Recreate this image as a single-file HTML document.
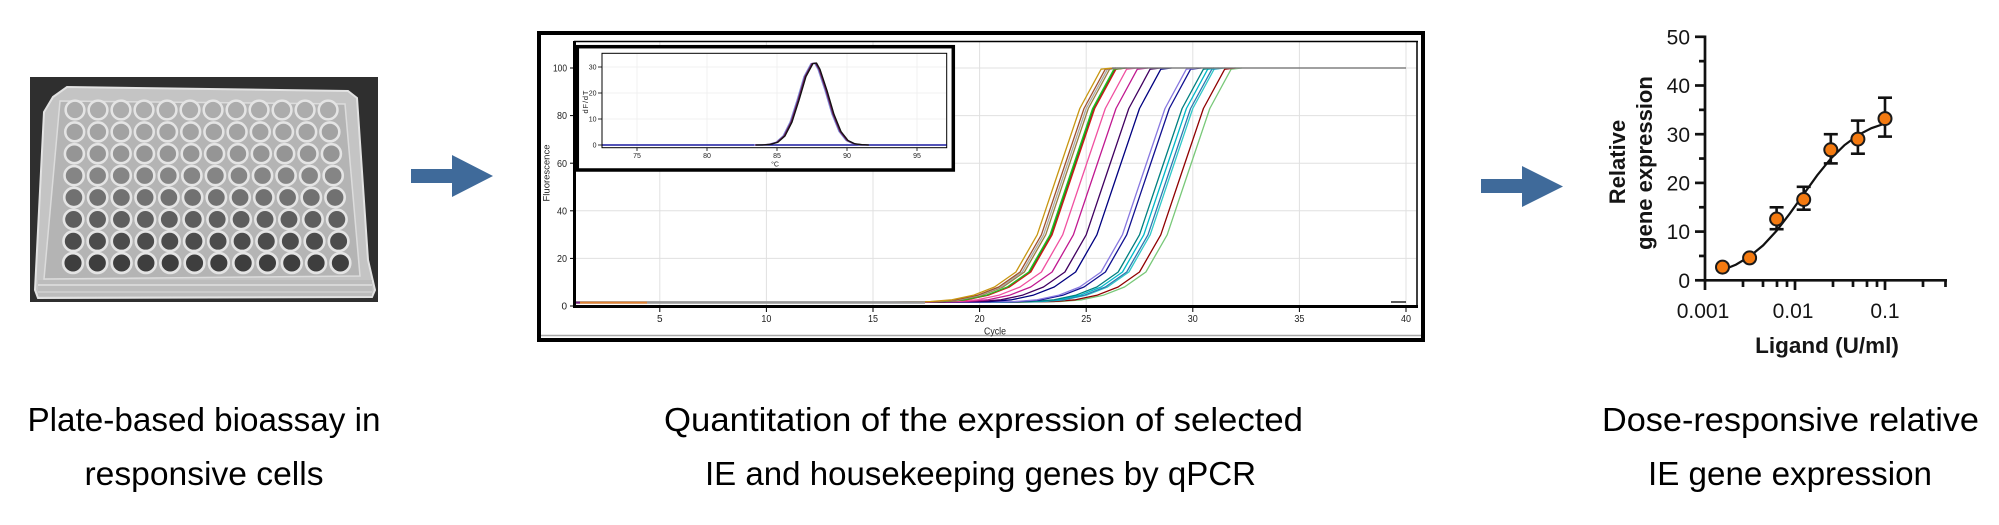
<!DOCTYPE html>
<html><head><meta charset="utf-8"><style>
html,body{margin:0;padding:0;background:#fff;}
svg{display:block;}
</style></head><body>
<svg width="1999" height="525" viewBox="0 0 1999 525" xmlns="http://www.w3.org/2000/svg" font-family="'Liberation Sans', Arial, sans-serif">
<defs>
  <g id="wrow" stroke="#e4e4e4" stroke-width="2.6">
    <circle cx="0" cy="0" r="9.6"/><circle cx="23.6" cy="0" r="9.6"/><circle cx="47.2" cy="0" r="9.6"/><circle cx="70.8" cy="0" r="9.6"/>
    <circle cx="94.4" cy="0" r="9.6"/><circle cx="118" cy="0" r="9.6"/><circle cx="141.6" cy="0" r="9.6"/><circle cx="165.2" cy="0" r="9.6"/>
    <circle cx="188.8" cy="0" r="9.6"/><circle cx="212.4" cy="0" r="9.6"/><circle cx="236" cy="0" r="9.6"/><circle cx="259.6" cy="0" r="9.6"/>
  </g>
  <path id="qc" fill="none" d="M -800 302.4 L -170.6 302.2 L -149.2 301.9 L -127.9 301.5 L -106.6 299.8 L -85.3 295.3 L -64 287 L -42.6 272 L -21.3 234.8 L 0 171.5 L 21.3 108.5 L 42.6 69.2 L 53.3 68"/>
  <clipPath id="pc"><rect x="575.5" y="42" width="841" height="263"/></clipPath>
</defs>
<rect width="1999" height="525" fill="#fff"/>

<!-- ============ PLATE PHOTO ============ -->
<rect x="30" y="77" width="348" height="225" fill="#2f2f2f"/>
<polygon points="53,97 67,87 348,91 357,98 368,260 375,290 372,297 38,298 35,290 44,112" fill="#c4c4c4" stroke="#e2e2e2" stroke-width="2"/>
<polygon points="60,101 345,104 360,276 44,279" fill="#b4b4b4" stroke="#dcdcdc" stroke-width="1.5"/>
<rect x="38" y="280" width="334" height="16" fill="#bcbcbc"/>
<line x1="38" y1="285" x2="372" y2="285" stroke="#e0e0e0" stroke-width="1.5"/>
<line x1="38" y1="292" x2="372" y2="292" stroke="#d6d6d6" stroke-width="1.2"/>
<g>
  <use href="#wrow" fill="#acacac" transform="translate(75,110) scale(0.975)"/>
  <use href="#wrow" fill="#a2a2a2" transform="translate(74.7,131.9) scale(0.983)"/>
  <use href="#wrow" fill="#959595" transform="translate(74.4,153.7) scale(0.99)"/>
  <use href="#wrow" fill="#858585" transform="translate(74.1,175.6) scale(0.998)"/>
  <use href="#wrow" fill="#717171" transform="translate(73.9,197.5) scale(1.006)"/>
  <use href="#wrow" fill="#5e5e5e" transform="translate(73.6,219.4) scale(1.014)"/>
  <use href="#wrow" fill="#4c4c4c" transform="translate(73.3,241.2) scale(1.022)"/>
  <use href="#wrow" fill="#3e3e3e" transform="translate(73,263) scale(1.03)"/>
</g>

<!-- ============ ARROWS ============ -->
<polygon points="411,169 452,169 452,155 493,176 452,197 452,183 411,183" fill="#3f6a9a"/>
<polygon points="1481,179 1522,179 1522,166 1563,186.5 1522,207 1522,193 1481,193" fill="#3f6a9a"/>

<!-- ============ qPCR PANEL ============ -->
<rect x="539" y="33" width="884" height="307" fill="#fff" stroke="#000" stroke-width="4"/>
<line x1="541" y1="335.5" x2="1421" y2="335.5" stroke="#a8a8a8" stroke-width="1.5"/>
<g stroke="#e0e0e0" stroke-width="1">
  <line x1="659.8" y1="42" x2="659.8" y2="305"/><line x1="766.4" y1="42" x2="766.4" y2="305"/>
  <line x1="873" y1="42" x2="873" y2="305"/><line x1="979.6" y1="42" x2="979.6" y2="305"/>
  <line x1="1086.2" y1="42" x2="1086.2" y2="305"/><line x1="1192.8" y1="42" x2="1192.8" y2="305"/>
  <line x1="1299.4" y1="42" x2="1299.4" y2="305"/><line x1="1406" y1="42" x2="1406" y2="305"/>
  <line x1="575" y1="258.4" x2="1416" y2="258.4"/><line x1="575" y1="210.8" x2="1416" y2="210.8"/>
  <line x1="575" y1="163.2" x2="1416" y2="163.2"/><line x1="575" y1="115.6" x2="1416" y2="115.6"/>
  <line x1="575" y1="68" x2="1416" y2="68"/>
</g>
<g clip-path="url(#pc)" stroke-width="1.3" stroke-linejoin="round">
  <use href="#qc" stroke="#78c878" transform="translate(1188.5,0)"/>
  <use href="#qc" stroke="#900000" transform="translate(1182.1,0)"/>
  <use href="#qc" stroke="#30c8c8" transform="translate(1171.5,0)"/>
  <use href="#qc" stroke="#3078b0" transform="translate(1169.3,0)"/>
  <use href="#qc" stroke="#00b8c8" transform="translate(1165.1,0)"/>
  <use href="#qc" stroke="#008080" transform="translate(1160.8,0)"/>
  <use href="#qc" stroke="#101090" transform="translate(1148,0)"/>
  <use href="#qc" stroke="#8878e0" transform="translate(1143.7,0)"/>
  <use href="#qc" stroke="#000080" transform="translate(1118.2,0)"/>
  <use href="#qc" stroke="#400060" transform="translate(1107.5,0)"/>
  <use href="#qc" stroke="#c01890" transform="translate(1094.7,0)"/>
  <use href="#qc" stroke="#f050a0" transform="translate(1084,0)"/>
  <use href="#qc" stroke="#208020" transform="translate(1072.3,0)"/>
  <use href="#qc" stroke="#d01818" transform="translate(1073.4,0)"/>
  <use href="#qc" stroke="#20c020" transform="translate(1071.3,0)"/>
  <use href="#qc" stroke="#9a8040" transform="translate(1067,0)"/>
  <use href="#qc" stroke="#a8a8a8" transform="translate(1064.9,0)"/>
  <use href="#qc" stroke="#a0522d" transform="translate(1062.7,0)"/>
  <use href="#qc" stroke="#c89610" transform="translate(1058.5,0)"/>
  <line x1="1112" y1="68" x2="1406" y2="68" stroke="#808080" stroke-width="1.4"/>
  <line x1="575" y1="302.4" x2="925" y2="302.4" stroke="#999" stroke-width="2.6"/>
  <line x1="575" y1="302.6" x2="647" y2="302.6" stroke="#e08030" stroke-width="2"/>
  <line x1="575" y1="302.6" x2="580" y2="302.6" stroke="#702080" stroke-width="2"/>
  <line x1="1391" y1="302" x2="1406" y2="302" stroke="#000" stroke-width="1.3"/>
</g>
<line x1="574.5" y1="41" x2="574.5" y2="308" stroke="#000" stroke-width="3"/>
<line x1="573" y1="306.5" x2="1418" y2="306.5" stroke="#000" stroke-width="3"/>
<line x1="574" y1="41.5" x2="1418" y2="41.5" stroke="#000" stroke-width="1.5"/>
<line x1="1417" y1="41" x2="1417" y2="307" stroke="#000" stroke-width="1.5"/>
<g stroke="#000" stroke-width="1">
  <line x1="570" y1="306" x2="574" y2="306"/><line x1="570" y1="258.4" x2="574" y2="258.4"/>
  <line x1="570" y1="210.8" x2="574" y2="210.8"/><line x1="570" y1="163.2" x2="574" y2="163.2"/>
  <line x1="570" y1="115.6" x2="574" y2="115.6"/><line x1="570" y1="68" x2="574" y2="68"/>
  <line x1="659.8" y1="308" x2="659.8" y2="312"/><line x1="766.4" y1="308" x2="766.4" y2="312"/>
  <line x1="873" y1="308" x2="873" y2="312"/><line x1="979.6" y1="308" x2="979.6" y2="312"/>
  <line x1="1086.2" y1="308" x2="1086.2" y2="312"/><line x1="1192.8" y1="308" x2="1192.8" y2="312"/>
  <line x1="1299.4" y1="308" x2="1299.4" y2="312"/><line x1="1406" y1="308" x2="1406" y2="312"/>
</g>
<g font-size="10" fill="#222" text-anchor="end">
  <text x="567" y="309.6">0</text>
  <text x="567" y="262" textLength="10" lengthAdjust="spacingAndGlyphs">20</text>
  <text x="567" y="214.4" textLength="10" lengthAdjust="spacingAndGlyphs">40</text>
  <text x="567" y="166.8" textLength="10" lengthAdjust="spacingAndGlyphs">60</text>
  <text x="567" y="119.2" textLength="10" lengthAdjust="spacingAndGlyphs">80</text>
  <text x="567" y="71.6" textLength="14" lengthAdjust="spacingAndGlyphs">100</text>
</g>
<g font-size="10" fill="#222" text-anchor="middle">
  <text x="659.8" y="322">5</text>
  <text x="766.4" y="322" textLength="10" lengthAdjust="spacingAndGlyphs">10</text>
  <text x="873" y="322" textLength="10" lengthAdjust="spacingAndGlyphs">15</text>
  <text x="979.6" y="322" textLength="10" lengthAdjust="spacingAndGlyphs">20</text>
  <text x="1086.2" y="322" textLength="10" lengthAdjust="spacingAndGlyphs">25</text>
  <text x="1192.8" y="322" textLength="10" lengthAdjust="spacingAndGlyphs">30</text>
  <text x="1299.4" y="322" textLength="10" lengthAdjust="spacingAndGlyphs">35</text>
  <text x="1406" y="322" textLength="10" lengthAdjust="spacingAndGlyphs">40</text>
  <text x="995" y="334.5" textLength="22" lengthAdjust="spacingAndGlyphs">Cycle</text>
</g>
<text transform="translate(549.5,173) rotate(-90)" font-size="9.5" fill="#222" text-anchor="middle" textLength="57" lengthAdjust="spacing">Fluorescence</text>

<rect x="577.3" y="46.7" width="376" height="123.3" fill="#fff" stroke="#000" stroke-width="3.5"/>
<g stroke="#f0f0f0" stroke-width="1">
  <line x1="637" y1="54" x2="637" y2="147"/><line x1="707" y1="54" x2="707" y2="147"/>
  <line x1="777" y1="54" x2="777" y2="147"/><line x1="847" y1="54" x2="847" y2="147"/>
  <line x1="917" y1="54" x2="917" y2="147"/>
  <line x1="603" y1="119" x2="946" y2="119"/><line x1="603" y1="93" x2="946" y2="93"/><line x1="603" y1="67" x2="946" y2="67"/>
</g>
<rect x="602" y="53.3" width="344.7" height="94.4" fill="none" stroke="#000" stroke-width="1"/>
<g stroke="#000" stroke-width="0.8">
  <line x1="598" y1="145" x2="602" y2="145"/><line x1="598" y1="119" x2="602" y2="119"/>
  <line x1="598" y1="93" x2="602" y2="93"/><line x1="598" y1="67" x2="602" y2="67"/>
  <line x1="637" y1="148" x2="637" y2="151"/><line x1="707" y1="148" x2="707" y2="151"/>
  <line x1="777" y1="148" x2="777" y2="151"/><line x1="847" y1="148" x2="847" y2="151"/>
  <line x1="917" y1="148" x2="917" y2="151"/>
</g>
<line x1="602.5" y1="145" x2="946.5" y2="145" stroke="#1a1aa0" stroke-width="1.6"/>
<g fill="none" stroke-width="1.3" stroke-linejoin="round">
  <path stroke="#7f90d8" transform="translate(-1,0)" d="M 755 145 L 763 144.9 L 770 144.3 L 777 142.2 L 784 136 L 791 122.2 L 798 100.3 L 805 76.6 L 812 63.6 L 815.5 63 L 819 69.3 L 826 90.4 L 833 114.3 L 840 131.5 L 847 140.4 L 854 143.8 L 861 144.7 L 868 145"/>
  <path stroke="#6a1858" d="M 755 145 L 763 144.9 L 770 144.3 L 777 142.2 L 784 136 L 791 122.2 L 798 100.3 L 805 76.6 L 812 63.6 L 815.5 63 L 819 69.3 L 826 90.4 L 833 114.3 L 840 131.5 L 847 140.4 L 854 143.8 L 861 144.7 L 868 145"/>
  <path stroke="#111" transform="translate(1,0)" d="M 755 145 L 763 144.9 L 770 144.3 L 777 142.2 L 784 136 L 791 122.2 L 798 100.3 L 805 76.6 L 812 63.6 L 815.5 63 L 819 69.3 L 826 90.4 L 833 114.3 L 840 131.5 L 847 140.4 L 854 143.8 L 861 144.7 L 868 145"/>
</g>
<g font-size="7" fill="#222" text-anchor="end">
  <text x="596.5" y="147.5">0</text><text x="596.5" y="121.5">10</text>
  <text x="596.5" y="95.5">20</text><text x="596.5" y="69.5">30</text>
</g>
<g font-size="7" fill="#222" text-anchor="middle">
  <text x="637" y="158">75</text><text x="707" y="158">80</text><text x="777" y="158">85</text>
  <text x="847" y="158">90</text><text x="917" y="158">95</text>
  <text x="775" y="166.5">°C</text>
</g>
<text transform="translate(588,102) rotate(-90)" font-size="7.5" fill="#222" text-anchor="middle" textLength="23" lengthAdjust="spacing">dF/dT</text>

<!-- ============ DOSE RESPONSE ============ -->
<g stroke="#111" stroke-width="2.7" stroke-linecap="butt">
  <line x1="1705" y1="35.5" x2="1705" y2="281.6"/>
  <line x1="1703.7" y1="280.3" x2="1947" y2="280.3"/>
  <line x1="1695" y1="280.3" x2="1705" y2="280.3"/><line x1="1699" y1="255.95" x2="1705" y2="255.95"/>
  <line x1="1695" y1="231.6" x2="1705" y2="231.6"/><line x1="1699" y1="207.25" x2="1705" y2="207.25"/>
  <line x1="1695" y1="182.9" x2="1705" y2="182.9"/><line x1="1699" y1="158.55" x2="1705" y2="158.55"/>
  <line x1="1695" y1="134.2" x2="1705" y2="134.2"/><line x1="1699" y1="109.85" x2="1705" y2="109.85"/>
  <line x1="1695" y1="85.5" x2="1705" y2="85.5"/><line x1="1699" y1="61.15" x2="1705" y2="61.15"/>
  <line x1="1695" y1="36.8" x2="1705" y2="36.8"/>
  <line x1="1705" y1="280" x2="1705" y2="290"/><line x1="1795" y1="280" x2="1795" y2="290"/><line x1="1885" y1="280" x2="1885" y2="290"/>
  <line x1="1743" y1="280" x2="1743" y2="287"/><line x1="1763" y1="280" x2="1763" y2="287"/>
  <line x1="1777" y1="280" x2="1777" y2="287"/><line x1="1787" y1="280" x2="1787" y2="287"/>
  <line x1="1833" y1="280" x2="1833" y2="287"/><line x1="1853" y1="280" x2="1853" y2="287"/>
  <line x1="1867" y1="280" x2="1867" y2="287"/><line x1="1877" y1="280" x2="1877" y2="287"/>
  <line x1="1923" y1="280" x2="1923" y2="287"/><line x1="1945.5" y1="280" x2="1945.5" y2="287"/>
</g>
<g font-size="21" fill="#151515" text-anchor="end">
  <text x="1690" y="288">0</text><text x="1690" y="239.2">10</text><text x="1690" y="190.5">20</text>
  <text x="1690" y="141.8">30</text><text x="1690" y="93.1">40</text><text x="1690" y="44.4">50</text>
</g>
<g font-size="21" fill="#151515" text-anchor="middle">
  <text x="1703" y="318">0.001</text><text x="1793" y="318">0.01</text><text x="1885" y="318">0.1</text>
</g>
<text x="1827" y="353" font-size="22.5" font-weight="bold" fill="#151515" text-anchor="middle">Ligand (U/ml)</text>
<text transform="translate(1625,162) rotate(-90)" font-size="22" font-weight="bold" fill="#151515" text-anchor="middle">Relative</text>
<text transform="translate(1652,163) rotate(-90)" font-size="22" font-weight="bold" fill="#151515" text-anchor="middle">gene expression</text>
<path fill="none" stroke="#111" stroke-width="2.2" d="M 1722.5 270.1 L 1736 264.6 L 1749.6 256.5 L 1763.1 245.4 L 1776.6 230.8 L 1790.1 213.2 L 1803.7 194.1 L 1817.2 175.3 L 1830.8 158.6 L 1844.3 145.3 L 1857.9 135.2 L 1871.4 128.2 L 1885 123.5"/>
<g stroke="#111" stroke-width="2.6">
  <line x1="1749.6" y1="261" x2="1749.6" y2="254.5"/><line x1="1743" y1="261" x2="1756" y2="261"/>
  <line x1="1776.6" y1="229.2" x2="1776.6" y2="207.3"/><line x1="1769.6" y1="229.2" x2="1783.6" y2="229.2"/><line x1="1769.6" y1="207.3" x2="1783.6" y2="207.3"/>
  <line x1="1803.7" y1="209.7" x2="1803.7" y2="186.8"/><line x1="1796.7" y1="209.7" x2="1810.7" y2="209.7"/><line x1="1796.7" y1="186.8" x2="1810.7" y2="186.8"/>
  <line x1="1830.8" y1="163.4" x2="1830.8" y2="134.2"/><line x1="1823.8" y1="163.4" x2="1837.8" y2="163.4"/><line x1="1823.8" y1="134.2" x2="1837.8" y2="134.2"/>
  <line x1="1857.9" y1="153.7" x2="1857.9" y2="120.6"/><line x1="1850.9" y1="153.7" x2="1864.9" y2="153.7"/><line x1="1850.9" y1="120.6" x2="1864.9" y2="120.6"/>
  <line x1="1885" y1="136.6" x2="1885" y2="97.7"/><line x1="1878" y1="136.6" x2="1892" y2="136.6"/><line x1="1878" y1="97.7" x2="1892" y2="97.7"/>
</g>
<g fill="#f47a10" stroke="#1a1a1a" stroke-width="2">
  <circle cx="1722.5" cy="267.1" r="6.5"/><circle cx="1749.6" cy="257.9" r="6.5"/>
  <circle cx="1776.6" cy="219" r="6.5"/><circle cx="1803.7" cy="199.5" r="6.5"/>
  <circle cx="1830.8" cy="149.8" r="6.5"/><circle cx="1857.9" cy="139.1" r="6.5"/>
  <circle cx="1885" cy="118.6" r="6.5"/>
</g>

<!-- ============ CAPTIONS ============ -->
<g font-size="33" fill="#000" text-anchor="middle" font-family="'Liberation Sans', Arial, sans-serif">
  <text x="204" y="431" textLength="353" lengthAdjust="spacingAndGlyphs">Plate-based bioassay in</text>
  <text x="204" y="485" textLength="239" lengthAdjust="spacingAndGlyphs">responsive cells</text>
  <text x="983.5" y="431" textLength="639" lengthAdjust="spacingAndGlyphs">Quantitation of the expression of selected</text>
  <text x="980.5" y="485" textLength="551" lengthAdjust="spacingAndGlyphs">IE and housekeeping genes by qPCR</text>
  <text x="1790.5" y="431" textLength="377" lengthAdjust="spacingAndGlyphs">Dose-responsive relative</text>
  <text x="1790" y="485" textLength="284" lengthAdjust="spacingAndGlyphs">IE gene expression</text>
</g>
</svg>
</body></html>
